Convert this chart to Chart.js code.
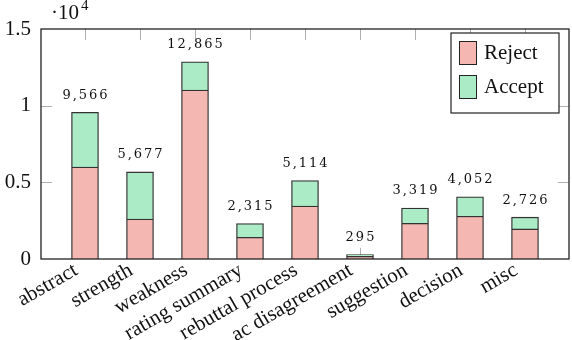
<!DOCTYPE html>
<html>
<head>
<meta charset="utf-8">
<script src="https://cdn.jsdelivr.net/npm/chart.js@4"></script>
<style>
  html, body { margin: 0; padding: 0; background: #fff; }
  #wrap { width: 572px; height: 340px; position: relative; }
</style>
</head>
<body>
<div id="wrap"><canvas id="myChart"></canvas></div>
<script>
// data
var categories = ["abstract", "strength", "weakness", "rating summary", "rebuttal process",
                  "ac disagreement", "suggestion", "decision", "misc"];
var reject = [6000, 2600, 11020, 1410, 3450, 175, 2330, 2790, 1960];
var accept = [3566, 3077, 1845, 905, 1664, 120, 989, 1262, 766];
var totals = [9566, 5677, 12865, 2315, 5114, 295, 3319, 4052, 2726];
var yTicks = [0, 5000, 10000, 15000];

var serif = "'Liberation Serif', 'DejaVu Serif', serif";

function pts(arr) {
  return arr.map(function (v, i) { return { x: i, y: v }; });
}

// frame, inward ticks, totals, exponent and legend
var extras = {
  id: 'extras',
  beforeDatasetsDraw: function (chart) {
    // bottom ticks sit behind the bars
    var ctx = chart.ctx, a = chart.chartArea, xs = chart.scales.x;
    ctx.save();
    ctx.strokeStyle = '#b0b0b0';
    ctx.lineWidth = 1;
    ctx.beginPath();
    categories.forEach(function (c, i) {
      var px = Math.round(xs.getPixelForValue(i)) + 0.5;
      ctx.moveTo(px, a.bottom); ctx.lineTo(px, a.bottom - 11);
    });
    ctx.stroke();
    ctx.restore();
  },
  afterDatasetsDraw: function (chart) {
    var ctx = chart.ctx;
    var a = chart.chartArea;
    var xs = chart.scales.x, ys = chart.scales.y;
    ctx.save();

    // inward tick marks
    ctx.strokeStyle = '#b0b0b0';
    ctx.lineWidth = 1;
    ctx.beginPath();
    categories.forEach(function (c, i) {
      var px = Math.round(xs.getPixelForValue(i)) + 0.5;
      ctx.moveTo(px, a.top); ctx.lineTo(px, a.top + 11);
    });
    [5000, 10000].forEach(function (v) {
      var py = Math.round(ys.getPixelForValue(v)) + 0.5;
      ctx.moveTo(a.left, py); ctx.lineTo(a.left + 11, py);
      ctx.moveTo(a.right, py); ctx.lineTo(a.right - 11, py);
    });
    ctx.stroke();

    // frame
    ctx.strokeStyle = '#222';
    ctx.lineWidth = 1.3;
    ctx.strokeRect(a.left, a.top, a.right - a.left, a.bottom - a.top);

    // totals above bars
    ctx.fillStyle = '#111';
    ctx.font = "13px 'DejaVu Serif', serif";
    if ('letterSpacing' in ctx) ctx.letterSpacing = '2px';
    ctx.textAlign = 'center';
    ctx.textBaseline = 'middle';
    totals.forEach(function (t, i) {
      ctx.fillText(t.toLocaleString('en-US'), xs.getPixelForValue(i) + 1, ys.getPixelForValue(t) - 17);
    });
    if ('letterSpacing' in ctx) ctx.letterSpacing = '0px';

    // exponent
    ctx.textAlign = 'left';
    ctx.textBaseline = 'alphabetic';
    ctx.font = "21px " + serif;
    ctx.fillText('\u00b710', a.left + 10, a.top - 10);
    ctx.font = "15px " + serif;
    ctx.fillText('4', a.left + 40, a.top - 19);

    // legend
    var lx = 451, ly = 33, lw = 108, lh = 80;
    ctx.fillStyle = '#fff';
    ctx.fillRect(lx, ly, lw, lh);
    ctx.strokeStyle = '#222';
    ctx.lineWidth = 1.2;
    ctx.strokeRect(lx, ly, lw, lh);
    chart.data.datasets.forEach(function (ds, k) {
      var by = ly + 8 + k * 34;
      ctx.fillStyle = ds.backgroundColor;
      ctx.fillRect(lx + 8, by, 17, 23);
      ctx.strokeStyle = '#222';
      ctx.lineWidth = 1;
      ctx.strokeRect(lx + 8.5, by + 0.5, 17, 23);
      ctx.fillStyle = '#111';
      ctx.font = "21px " + serif;
      ctx.textBaseline = 'middle';
      ctx.fillText(ds.label, lx + 33, by + 12);
    });
    ctx.restore();
  }
};

new Chart(document.getElementById("myChart"), {
  type: 'bar',
  data: {
    datasets: [
      {
        label: "Reject",
        backgroundColor: "#F5B7B1",
        borderColor: "#333",
        borderWidth: 1.3,
        data: pts(reject)
      },
      {
        label: "Accept",
        backgroundColor: "#ABEBC6",
        borderColor: "#333",
        borderWidth: 1.3,
        data: pts(accept)
      }
    ]
  },
  plugins: [extras],
  options: {
    responsive: true,
    maintainAspectRatio: false,
    animation: false,
    layout: { padding: { top: 29, right: 3, left: 0, bottom: 0 } },
    barThickness: 27,
    plugins: {
      legend: { display: false },
      tooltip: { enabled: false }
    },
    scales: {
      x: {
        type: 'linear',
        stacked: true,
        offset: false,
        min: -0.8,
        max: categories.length - 1 + 0.8,
        afterBuildTicks: function (scale) {
          scale.ticks = categories.map(function (c, i) { return { value: i }; });
        },
        afterFit: function (scale) { scale.height = 81; },
        grid: { display: false, offset: false, drawTicks: false },
        border: { display: false },
        ticks: {
          autoSkip: false,
          minRotation: 30,
          maxRotation: 30,
          padding: -1,
          labelOffset: -9,
          color: '#111',
          font: { family: serif, size: 21 },
          callback: function (v) { return categories[v]; }
        }
      },
      y: {
        stacked: true,
        min: 0,
        max: 15000,
        afterBuildTicks: function (scale) {
          scale.ticks = yTicks.map(function (v) { return { value: v }; });
        },
        afterFit: function (scale) { scale.width = 41; },
        grid: { display: false, drawTicks: false },
        border: { display: false },
        ticks: {
          padding: 10,
          color: '#111',
          font: { family: serif, size: 21 },
          callback: function (v) { return String(v / 10000); }
        }
      }
    }
  }
});
</script>
</body>
</html>
